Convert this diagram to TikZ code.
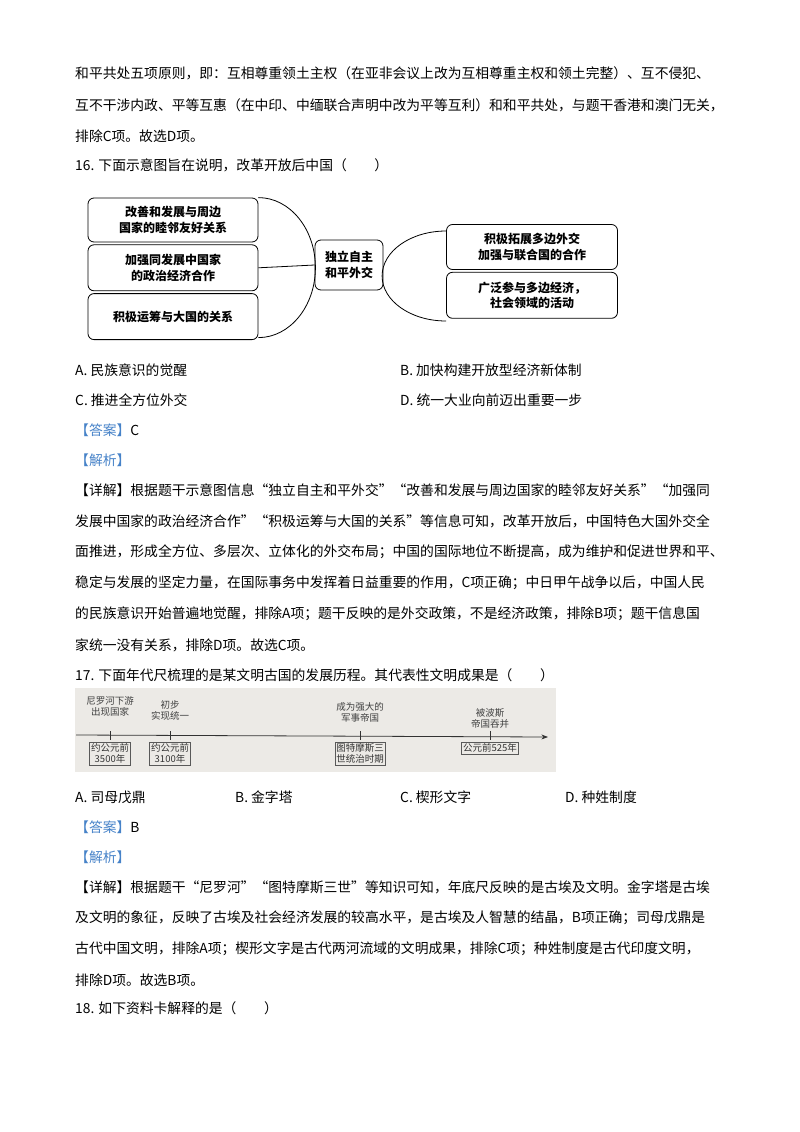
\documentclass[tikz,border=0pt]{standalone}
\usepackage{fontspec}
\setmainfont{Noto Sans CJK SC}
\usetikzlibrary{positioning,arrows.meta}
\definecolor{tagblue}{RGB}{70,130,200}
\definecolor{photogray}{RGB}{236,234,230}

\begin{document}
\begin{tikzpicture}[
    x=1pt, y=-1pt,
    >=Stealth,
    % Styles
    line_text/.style={ % one line of body text
        anchor=west, inner sep=0pt,
        font=\fontsize{13.8}{16}\selectfont
    },
    tag_text/.style={line_text, text=tagblue},
    idea_box/.style={ % boxes of the diagram
        draw, rounded corners=6pt, thick,
        align=center, inner sep=0pt,
        font=\fontsize{12}{15.5}\selectfont\bfseries
    },
    time_box/.style={ % boxes below the time axis
        draw, gray!70!black, text=black!80, align=center, inner sep=1.5pt,
        font=\fontsize{9.5}{11}\selectfont
    },
    event_text/.style={
        align=center, inner sep=0pt, text=black!75,
        font=\fontsize{9.5}{11}\selectfont
    }
]
\useasboundingbox (0,0) rectangle (800,1132);

% --- Previous answer ---
\node[line_text] (p1) at (75,73) {和平共处五项原则，即：互相尊重领土主权（在亚非会议上改为互相尊重主权和领土完整）、互不侵犯、};
\node[line_text] (p2) at (75,105) {互不干涉内政、平等互惠（在中印、中缅联合声明中改为平等互利）和和平共处，与题干香港和澳门无关，};
\node[line_text] (p3) at (75,136) {排除C项。故选D项。};

% --- Question 16 ---
\node[line_text] (q16) at (75,165) {16. 下面示意图旨在说明，改革开放后中国（\qquad ）};

\node[idea_box, minimum width=170, minimum height=44] (L1) at (173,220) {改善和发展与周边\\国家的睦邻友好关系};
\node[idea_box, minimum width=170, minimum height=46, below=2pt of L1] (L2) {加强同发展中国家\\的政治经济合作};
\node[idea_box, minimum width=170, minimum height=46, below=2pt of L2] (L3) {积极运筹与大国的关系};
\node[idea_box, minimum width=68, minimum height=50] (mid) at (349,265) {独立自主\\和平外交};
\node[idea_box, minimum width=171, minimum height=45] (R1) at (532,247) {积极拓展多边外交\\加强与联合国的合作};
\node[idea_box, minimum width=171, minimum height=46, below=2pt of R1] (R2) {广泛参与多边经济，\\社会领域的活动};

\draw[thick] (L1.north east) arc[start angle=-90, end angle=90, x radius=57, y radius=70];
\draw[thick] (L2.east) -- (mid.west);
\draw[thick] (R1.west |- 0,231) arc[start angle=-90, end angle=-270, x radius=64, y radius=45];

\node[line_text] (o16a) at (75,370) {A.\ 民族意识的觉醒};
\node[line_text] (o16b) at (400,370) {B.\ 加快构建开放型经济新体制};
\node[line_text] (o16c) at (75,400) {C.\ 推进全方位外交};
\node[line_text] (o16d) at (400,400) {D.\ 统一大业向前迈出重要一步};
\node[line_text] (a16) at (75,430) {\textcolor{tagblue}{【答案】}C};
\node[tag_text] (j16) at (75,460) {【解析】};
\node[line_text] (d1) at (75,490) {【详解】根据题干示意图信息“独立自主和平外交”“改善和发展与周边国家的睦邻友好关系”“加强同};
\node[line_text] (d2) at (75,521) {发展中国家的政治经济合作”“积极运筹与大国的关系”等信息可知，改革开放后，中国特色大国外交全};
\node[line_text] (d3) at (75,552) {面推进，形成全方位、多层次、立体化的外交布局；中国的国际地位不断提高，成为维护和促进世界和平、};
\node[line_text] (d4) at (75,583) {稳定与发展的坚定力量，在国际事务中发挥着日益重要的作用，C项正确；中日甲午战争以后，中国人民};
\node[line_text] (d5) at (75,614) {的民族意识开始普遍地觉醒，排除A项；题干反映的是外交政策，不是经济政策，排除B项；题干信息国};
\node[line_text] (d6) at (75,645) {家统一没有关系，排除D项。故选C项。};

% --- Question 17 ---
\node[line_text] (q17) at (75,675) {17. 下面年代尺梳理的是某文明古国的发展历程。其代表性文明成果是（\qquad ）};

\fill[photogray] (75,688) rectangle (556,772);
\coordinate (ax0) at (76,735);
\coordinate (ax1) at (548,737);
\draw[->, thick, gray!40!black] (ax0) -- (ax1);
\foreach \tx/\up/\low/\ly [count=\k] in {
    110/尼罗河下游\\出现国家/约公元前\\3500年/706,
    170/初步\\实现统一/约公元前\\3100年/710,
    360/成为强大的\\军事帝国/图特摩斯三\\世统治时期/712,
    490/被波斯\\帝国吞并/公元前525年/718} {
    \draw[thick, gray!40!black] (\tx,731) -- (\tx,740);
    \node[event_text] (ev\k) at (\tx,\ly) {\up};
    \node[time_box, anchor=north] (tb\k) at (\tx,742) {\low};
}

\node[line_text] (o17a) at (75,797) {A.\ 司母戊鼎};
\node[line_text] (o17b) at (235,797) {B.\ 金字塔};
\node[line_text] (o17c) at (400,797) {C.\ 楔形文字};
\node[line_text] (o17d) at (565,797) {D.\ 种姓制度};
\node[line_text] (a17) at (75,827) {\textcolor{tagblue}{【答案】}B};
\node[tag_text] (j17) at (75,857) {【解析】};
\node[line_text] (e1) at (75,887) {【详解】根据题干“尼罗河”“图特摩斯三世”等知识可知，年底尺反映的是古埃及文明。金字塔是古埃};
\node[line_text] (e2) at (75,918) {及文明的象征，反映了古埃及社会经济发展的较高水平，是古埃及人智慧的结晶，B项正确；司母戊鼎是};
\node[line_text] (e3) at (75,949) {古代中国文明，排除A项；楔形文字是古代两河流域的文明成果，排除C项；种姓制度是古代印度文明，};
\node[line_text] (e4) at (75,980) {排除D项。故选B项。};

% --- Question 18 ---
\node[line_text] (q18) at (75,1008) {18. 如下资料卡解释的是（\qquad ）};
\end{tikzpicture}
\end{document}
